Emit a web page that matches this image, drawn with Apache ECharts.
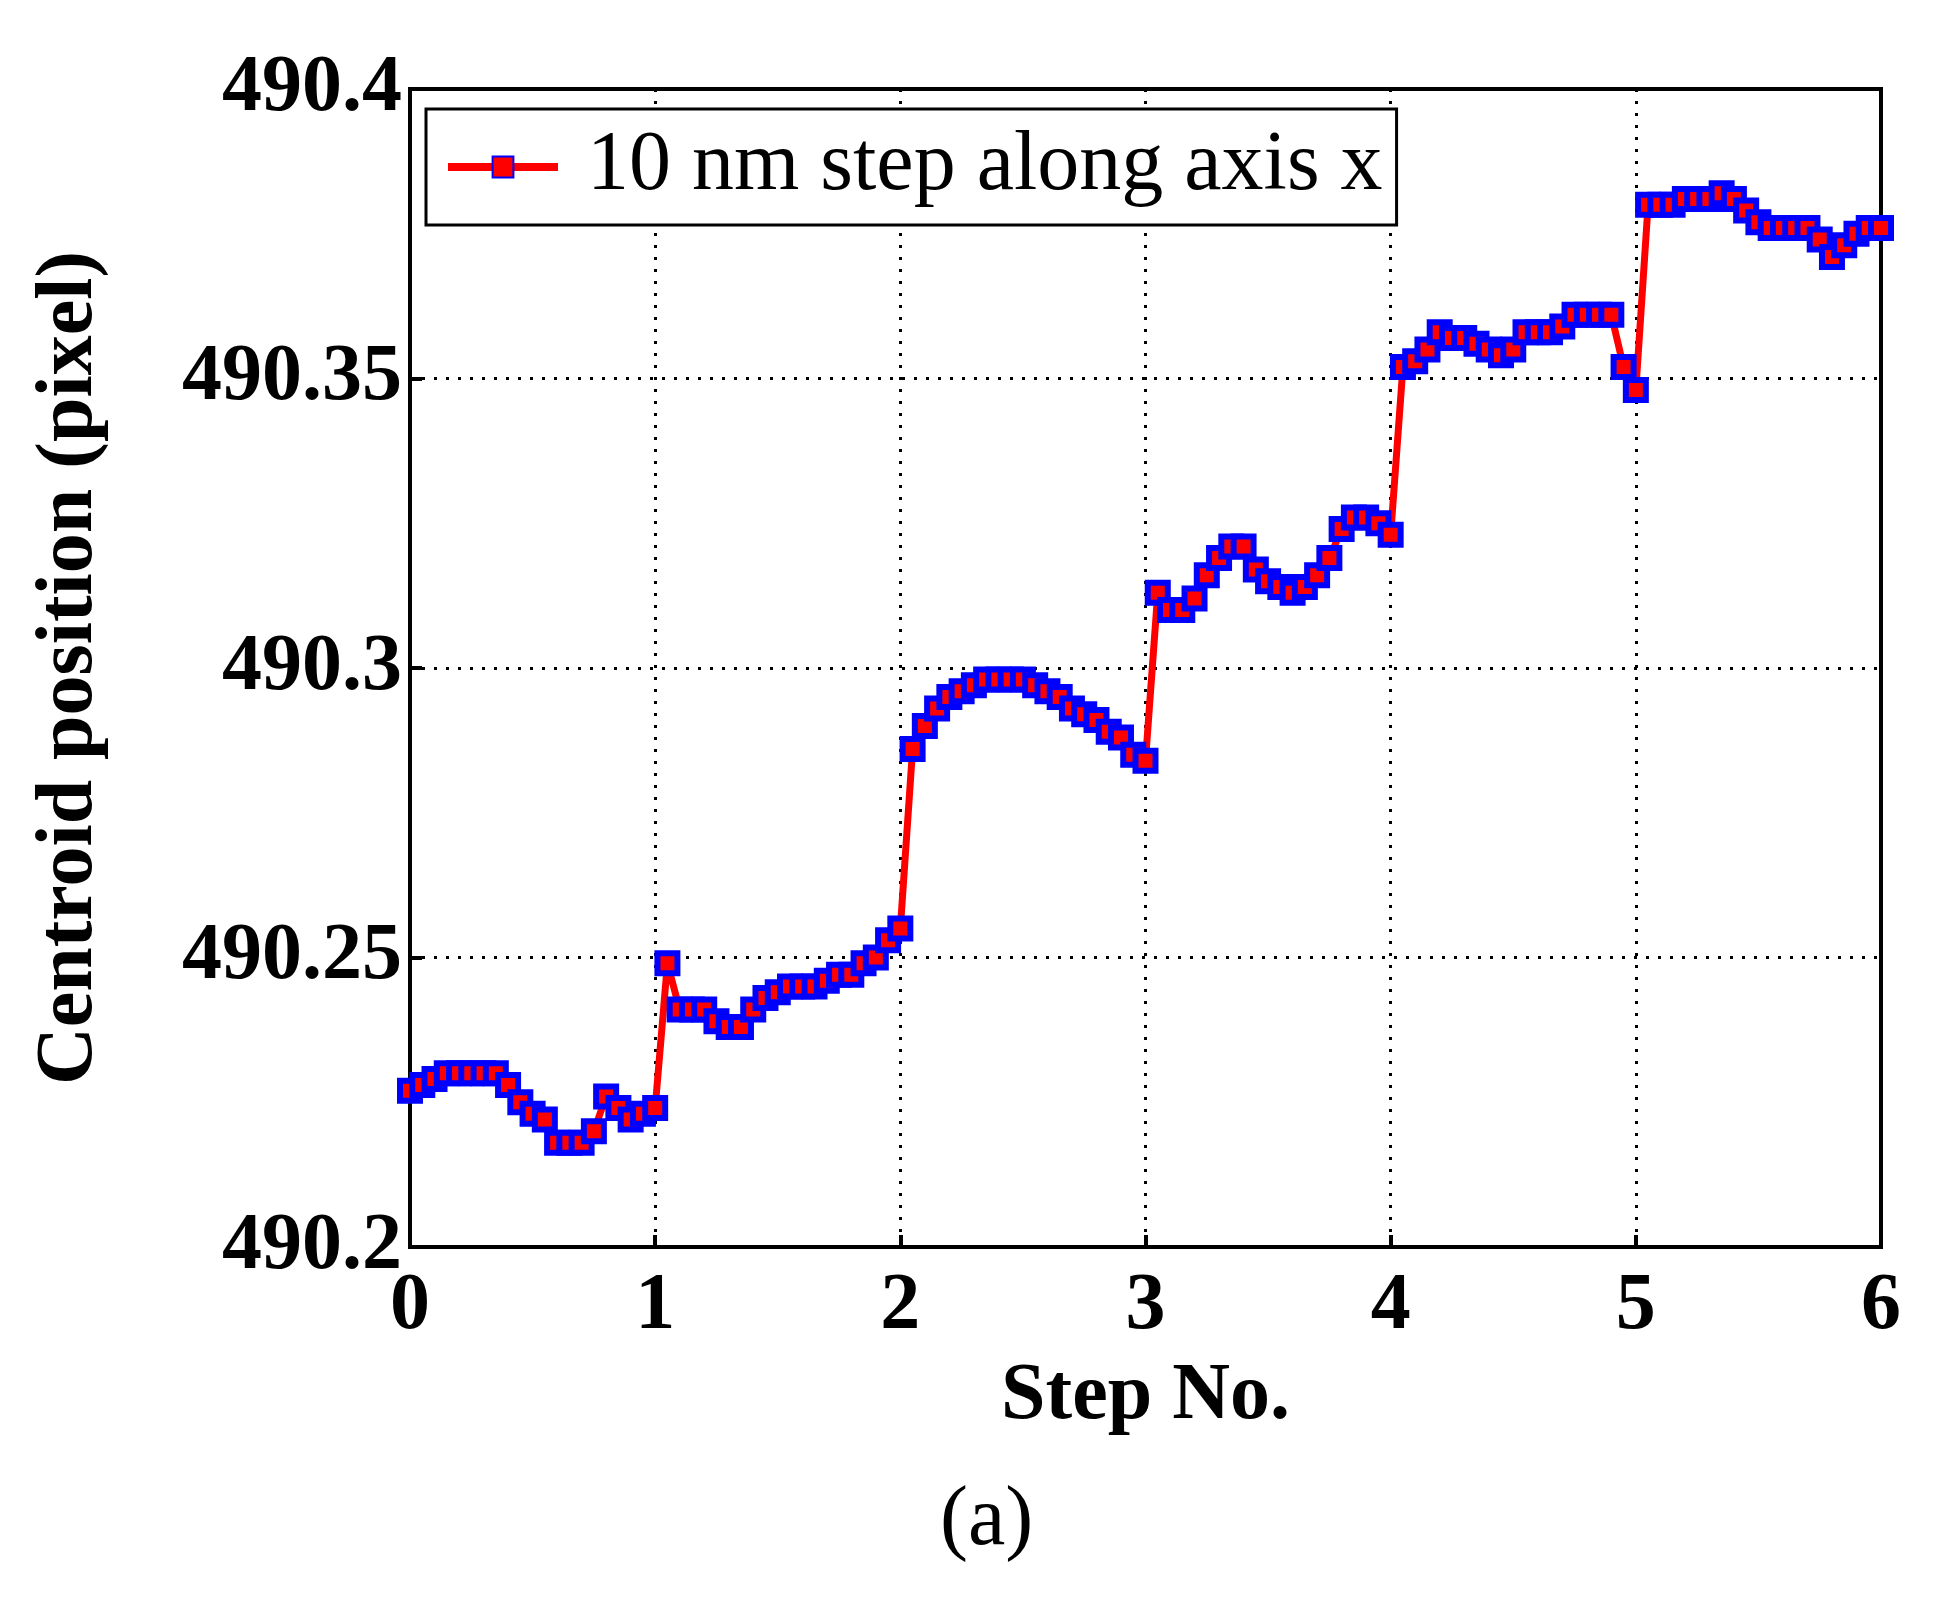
<!DOCTYPE html>
<html>
<head>
<meta charset="utf-8">
<script src="https://cdn.jsdelivr.net/npm/echarts@6/dist/echarts.min.js"></script>
<style>html,body{margin:0;background:#fff}#c{width:1939px;height:1600px}</style>
</head>
<body>
<div id="c"></div>
<script>
// step positions
const steps = [
  0, 0.05, 0.1, 0.15, 0.2, 0.25, 0.3, 0.35, 0.4, 0.45, 0.5, 0.55, 0.6, 0.65, 0.7, 0.75, 0.8, 0.85, 0.9, 0.95,
  1.0, 1.05, 1.1, 1.15, 1.2, 1.25, 1.3, 1.35, 1.4, 1.45, 1.5, 1.55, 1.6, 1.65, 1.7, 1.75, 1.8, 1.85, 1.9, 1.95,
  2.0, 2.05, 2.1, 2.15, 2.2, 2.25, 2.3, 2.35, 2.4, 2.45, 2.5, 2.55, 2.6, 2.65, 2.7, 2.75, 2.8, 2.85, 2.9, 2.95,
  3.0, 3.05, 3.1, 3.15, 3.2, 3.25, 3.3, 3.35, 3.4, 3.45, 3.5, 3.55, 3.6, 3.65, 3.7, 3.75, 3.8, 3.85, 3.9, 3.95,
  4.0, 4.05, 4.1, 4.15, 4.2, 4.25, 4.3, 4.35, 4.4, 4.45, 4.5, 4.55, 4.6, 4.65, 4.7, 4.75, 4.8, 4.85, 4.9, 4.95,
  5.0, 5.05, 5.1, 5.15, 5.2, 5.25, 5.3, 5.35, 5.4, 5.45, 5.5, 5.55, 5.6, 5.65, 5.7, 5.75, 5.8, 5.85, 5.9, 5.95, 6.0
];
// centroid position (pixel)
const centroid = [
  490.227, 490.228, 490.229, 490.230, 490.230, 490.230, 490.230, 490.230, 490.228, 490.225, 490.223, 490.222, 490.218, 490.218, 490.218, 490.220, 490.226, 490.224, 490.222, 490.223,
  490.224, 490.249, 490.241, 490.241, 490.241, 490.239, 490.238, 490.238, 490.241, 490.243, 490.244, 490.245, 490.245, 490.245, 490.246, 490.247, 490.247, 490.249, 490.250, 490.253,
  490.255, 490.286, 490.290, 490.293, 490.295, 490.296, 490.297, 490.298, 490.298, 490.298, 490.298, 490.297, 490.296, 490.295, 490.293, 490.292, 490.291, 490.289, 490.288, 490.285,
  490.284, 490.313, 490.310, 490.310, 490.312, 490.316, 490.319, 490.321, 490.321, 490.317, 490.315, 490.314, 490.313, 490.314, 490.316, 490.319, 490.324, 490.326, 490.326, 490.325,
  490.323, 490.352, 490.353, 490.355, 490.358, 490.357, 490.357, 490.356, 490.355, 490.354, 490.355, 490.358, 490.358, 490.358, 490.359, 490.361, 490.361, 490.361, 490.361, 490.352,
  490.348, 490.380, 490.380, 490.380, 490.381, 490.381, 490.381, 490.382, 490.381, 490.379, 490.377, 490.376, 490.376, 490.376, 490.376, 490.374, 490.371, 490.373, 490.375, 490.376, 490.376
];
const yTicks = ['490.2', '490.25', '490.3', '490.35', '490.4'];

const font = 'Liberation Serif';
const chart = echarts.init(document.getElementById('c'));
chart.setOption({
  animation: false,
  textStyle: { fontFamily: font },
  grid: { left: 410, right: 58, top: 89, bottom: 353, show: true, borderColor: '#000', borderWidth: 4 },
  legend: {
    left: 426, top: 109, orient: 'vertical',
    padding: [16, 14, 16, 18],
    borderColor: '#000', borderWidth: 3, backgroundColor: '#fff',
    itemWidth: 110, itemHeight: 26, itemGap: 0,
    lineStyle: { width: 8 },
    textStyle: { fontFamily: font, fontSize: 84, color: '#000', padding: [0, 0, 0, 24] },
    data: ['10 nm step along axis x']
  },
  xAxis: {
    type: 'value', min: 0, max: 6, interval: 1,
    name: 'Step No.', nameLocation: 'middle', nameGap: 110,
    nameTextStyle: { fontFamily: font, fontSize: 80, fontWeight: 'bold', color: '#000' },
    axisLine: { lineStyle: { color: '#000', width: 4 } },
    axisTick: { inside: true, length: 12, lineStyle: { color: '#000', width: 4 } },
    axisLabel: { fontFamily: font, fontSize: 80, fontWeight: 'bold', color: '#000', margin: 20 },
    splitLine: { lineStyle: { color: '#000', type: [3, 9], width: 3 } }
  },
  yAxis: {
    type: 'value', min: 490.2, max: 490.4, interval: 0.05,
    name: 'Centroid position (pixel)', nameLocation: 'middle', nameGap: 300,
    nameTextStyle: { fontFamily: font, fontSize: 80, fontWeight: 'bold', color: '#000' },
    axisLine: { lineStyle: { color: '#000', width: 4 } },
    axisTick: { inside: true, length: 12, lineStyle: { color: '#000', width: 4 } },
    axisLabel: {
      fontFamily: font, fontSize: 80, fontWeight: 'bold', color: '#000', margin: 8,
      formatter: v => yTicks[Math.round((v - 490.2) / 0.05)]
    },
    splitLine: { lineStyle: { color: '#000', type: [3, 9], width: 3 } }
  },
  series: [{
    name: '10 nm step along axis x',
    type: 'line',
    data: steps.map((s, i) => [s, centroid[i]]),
    symbol: 'rect', symbolSize: 20,
    lineStyle: { color: '#ff0000', width: 7 },
    itemStyle: { color: '#ff0000', borderColor: '#0000ff', borderWidth: 6 }
  }],
  graphic: [{
    type: 'text', left: 940, top: 1480,
    style: { text: '(a)', font: '84px "Liberation Serif"', fill: '#000' }
  }]
});
</script>
</body>
</html>
